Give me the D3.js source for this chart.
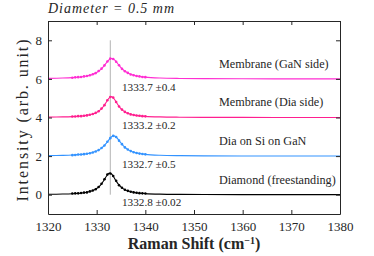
<!DOCTYPE html>
<html>
<head>
<meta charset="utf-8">
<script src="https://cdn.jsdelivr.net/npm/d3@7"></script>
</head>
<body style="margin:0">
<script>
// sample names, vertical offset, colour and peak label
const names = ['Diamond (freestanding)', 'Dia on Si on GaN', 'Membrane (Dia side)', 'Membrane (GaN side)'];
const offsets = [0, 2, 4, 6];
const colors = ['#000000', '#3393ff', '#ff1f8f', '#ff2ed2'];
const peakLabels = ['1332.8 \u00b10.02', '1332.7 \u00b10.5', '1333.2 \u00b10.2', '1333.7 \u00b10.4'];

// measured points (relative to offset)
const dotX = [1325.0, 1325.6, 1326.2, 1326.8, 1327.4, 1328.0, 1328.6, 1329.2, 1329.8, 1330.4, 1331.0, 1331.6, 1332.2,
  1332.8, 1333.4, 1334.0, 1334.6, 1335.2, 1335.8, 1336.4, 1337.0, 1337.6, 1338.2, 1338.8, 1339.4, 1340.0];
const dotsDiamond = [0.06, 0.07, 0.07, 0.09, 0.11, 0.12, 0.17, 0.22, 0.28, 0.40, 0.57, 0.80, 1.05, 1.10, 0.97, 0.72, 0.49, 0.36, 0.26, 0.20, 0.15, 0.12, 0.10, 0.08, 0.07, 0.06];
const dotsSi = [0.05, 0.06, 0.08, 0.08, 0.10, 0.12, 0.15, 0.19, 0.24, 0.31, 0.42, 0.55, 0.74, 0.93, 1.05, 0.99, 0.80, 0.62, 0.45, 0.34, 0.26, 0.20, 0.16, 0.13, 0.11, 0.09];
const dotsDia = [0.05, 0.05, 0.07, 0.07, 0.09, 0.11, 0.14, 0.18, 0.24, 0.32, 0.46, 0.64, 0.89, 1.06, 1.03, 0.80, 0.57, 0.41, 0.29, 0.22, 0.16, 0.13, 0.10, 0.09, 0.07, 0.06];
const dotsGaN = [0.06, 0.08, 0.09, 0.10, 0.13, 0.15, 0.19, 0.24, 0.30, 0.41, 0.53, 0.70, 0.90, 1.05, 1.03, 0.89, 0.71, 0.52, 0.40, 0.31, 0.23, 0.19, 0.15, 0.13, 0.10, 0.09];

// fitted curves (relative to offset)
const fitX = [1320, 1323, 1325, 1327, 1328, 1329, 1330, 1330.8, 1331.5, 1332, 1332.5, 1333, 1333.5, 1334, 1334.7,
  1335.5, 1336.5, 1338, 1340, 1343, 1347, 1352, 1360, 1370, 1380];
const fitDiamond = [0.020, 0.033, 0.052, 0.092, 0.130, 0.195, 0.318, 0.498, 0.748, 0.958, 1.105, 1.086, 0.917, 0.707, 0.470, 0.302, 0.187, 0.104, 0.058, 0.030, 0.016, 0.009, 0.004, 0.002, 0.0015];
const fitSi = [0.023, 0.037, 0.055, 0.091, 0.123, 0.173, 0.258, 0.373, 0.525, 0.672, 0.840, 0.988, 1.050, 0.988, 0.772, 0.525, 0.323, 0.173, 0.091, 0.045, 0.023, 0.012, 0.006, 0.003, 0.002];
const fitDia = [0.018, 0.030, 0.047, 0.080, 0.112, 0.165, 0.262, 0.404, 0.607, 0.802, 0.994, 1.080, 0.994, 0.802, 0.540, 0.341, 0.206, 0.112, 0.060, 0.030, 0.016, 0.009, 0.004, 0.002, 0.001];
const fitGaN = [0.027, 0.044, 0.067, 0.112, 0.154, 0.220, 0.333, 0.482, 0.671, 0.832, 0.980, 1.058, 1.023, 0.895, 0.671, 0.460, 0.293, 0.165, 0.090, 0.046, 0.024, 0.013, 0.006, 0.003, 0.002];

const refLine = 1332.8;
const xTicks = [1320, 1330, 1340, 1350, 1360, 1370, 1380];
const yTicks = [0, 2, 4, 6, 8];

const dots = [dotsDiamond, dotsSi, dotsDia, dotsGaN];
const fits = [fitDiamond, fitSi, fitDia, fitGaN];

const W = 374, H = 256;
const m = { left: 48, right: 34, top: 21, bottom: 42 };
const serif = '"Liberation Serif"';
const ink = '#262626';

const svg = d3.select('body').append('svg')
  .attr('width', W)
  .attr('height', H);

const x = d3.scaleLinear().domain([1320, 1380]).range([m.left, W - m.right]);
const y = d3.scaleLinear().domain([-1, 9]).range([H - m.bottom, m.top]);

// reference line
svg.append('line')
  .attr('x1', x(refLine)).attr('x2', x(refLine))
  .attr('y1', y(0)).attr('y2', y(8))
  .attr('stroke', '#b3b3b3').attr('stroke-width', 1);

const line = d3.line().curve(d3.curveCatmullRom);

fits.forEach(function(f, s) {
  svg.append('path')
    .attr('d', line(fitX.map((v, i) => [x(v), y(f[i] + offsets[s])])))
    .attr('fill', 'none')
    .attr('stroke', colors[s])
    .attr('stroke-width', 1.1);

  svg.append('g').selectAll('circle')
    .data(dots[s])
    .enter()
    .append('circle')
    .attr('cx', (d, i) => x(dotX[i]))
    .attr('cy', d => y(d + offsets[s]))
    .attr('r', 1.3)
    .attr('fill', colors[s]);

  svg.append('text')
    .attr('x', 219)
    .attr('y', y(offsets[s] + 0.8))
    .attr('dy', '0.35em')
    .style('font-family', serif)
    .style('font-size', '12.2px')
    .style('fill', ink)
    .text(names[s]);

  svg.append('text')
    .attr('x', 122)
    .attr('y', y(offsets[s] - 0.4))
    .attr('dy', '0.35em')
    .style('font-family', serif)
    .style('font-size', '11.2px')
    .style('fill', ink)
    .text(peakLabels[s]);
});

// axes box with inward ticks
const ax = svg.append('g');
ax.append('g')
  .attr('transform', `translate(0,${y(-1)})`)
  .call(d3.axisBottom(x).tickValues(xTicks).tickSizeInner(-4).tickSizeOuter(0).tickPadding(8).tickFormat(d3.format('d')));
ax.append('g')
  .attr('transform', `translate(0,${y(9)})`)
  .call(d3.axisTop(x).tickValues(xTicks).tickSizeInner(-4).tickSizeOuter(0).tickFormat(''));
ax.append('g')
  .attr('transform', `translate(${x(1320)},0)`)
  .call(d3.axisLeft(y).tickValues(yTicks).tickSizeInner(-4).tickSizeOuter(0).tickPadding(6));
ax.append('g')
  .attr('transform', `translate(${x(1380)},0)`)
  .call(d3.axisRight(y).tickValues(yTicks).tickSizeInner(-4).tickSizeOuter(0).tickFormat(''));

ax.selectAll('.domain').attr('stroke', ink);
ax.selectAll('.tick line').attr('stroke', ink);
ax.selectAll('.tick text')
  .style('font-family', serif)
  .style('font-size', '13px')
  .style('fill', ink);

// titles
svg.append('text')
  .attr('x', 48).attr('y', 13)
  .style('font-family', serif)
  .style('font-size', '14px')
  .style('font-style', 'italic')
  .style('fill', ink)
  .attr('textLength', 126)
  .attr('lengthAdjust', 'spacing')
  .text('Diameter = 0.5 mm');

svg.append('text')
  .attr('transform', `translate(28,${(y(-1) + y(9)) / 2 + 3}) rotate(-90)`)
  .attr('text-anchor', 'middle')
  .style('font-family', serif)
  .style('font-size', '16px')
  .style('fill', ink)
  .attr('textLength', 162)
  .attr('lengthAdjust', 'spacing')
  .text('Intensity (arb. unit)');

const xl = svg.append('text')
  .attr('x', (x(1320) + x(1380)) / 2)
  .attr('y', 249)
  .attr('text-anchor', 'middle')
  .style('font-family', serif)
  .style('font-size', '16px')
  .style('font-weight', 'bold')
  .style('fill', ink);
xl.append('tspan').text('Raman Shift (cm');
xl.append('tspan').attr('dy', -5.5).style('font-size', '10px').text('\u22121');
xl.append('tspan').attr('dy', 5.5).text(')');
</script>
</body>
</html>
